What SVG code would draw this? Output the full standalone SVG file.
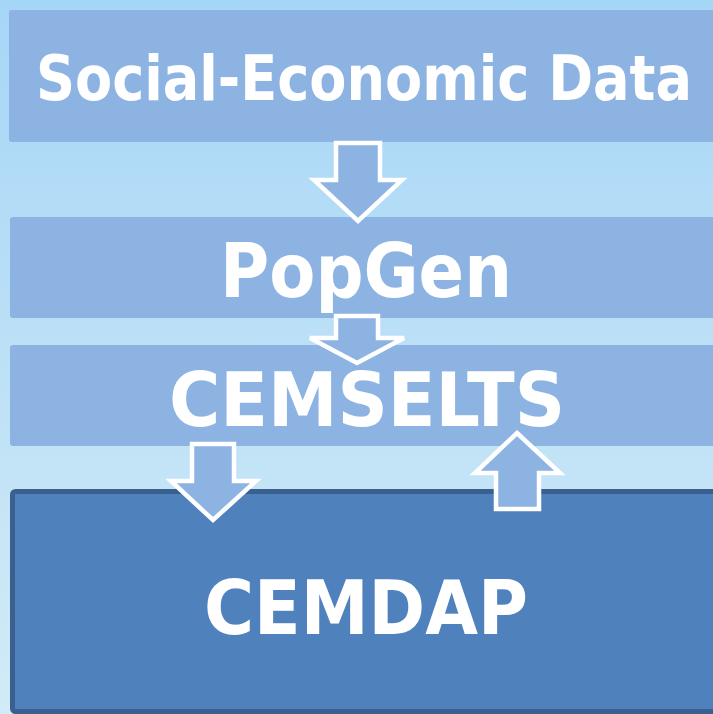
<svg xmlns="http://www.w3.org/2000/svg" width="713" height="714" viewBox="0 0 713 714">
<defs>
<linearGradient id="bg" x1="0" y1="0" x2="0" y2="1">
<stop offset="0" stop-color="#a6d6f7"/>
<stop offset="1" stop-color="#d2ebf6"/>
</linearGradient>
</defs>
<style>
.box{fill:#8db3e2;}
.main{fill:#4f81bd;stroke:#3a6090;stroke-width:5;}
.arrow{fill:#8db3e2;stroke:#ffffff;stroke-width:4.5;stroke-linejoin:miter;}
.t{fill:#ffffff;font-family:"DejaVu Sans Condensed","DejaVu Sans",sans-serif;font-weight:bold;text-anchor:middle;}
</style>
<rect x="0" y="0" width="713" height="714" fill="url(#bg)"/>
<g id="node-social">
<rect class="box" x="9" y="10" width="708" height="132" rx="3"/>
<text class="t" x="364" y="100" font-size="62" textLength="656" lengthAdjust="spacingAndGlyphs">Social-Economic Data</text>
</g>
<g id="node-popgen">
<rect class="box" x="10" y="217" width="707" height="101" rx="3"/>
<text class="t" x="366" y="297" font-size="74" textLength="292" lengthAdjust="spacingAndGlyphs">PopGen</text>
</g>
<g id="node-cemselts">
<rect class="box" x="10" y="345" width="707" height="101" rx="3"/>
<text class="t" x="367" y="426" font-size="75" textLength="396" lengthAdjust="spacingAndGlyphs">CEMSELTS</text>
</g>
<g id="node-cemdap">
<rect class="main" x="12.5" y="491.5" width="710" height="220" rx="3"/>
<text class="t" x="366" y="634" font-size="75" textLength="324" lengthAdjust="spacingAndGlyphs">CEMDAP</text>
</g>
<g id="connectors">
<polygon class="arrow" points="336,143 380,143 380,180 402,180 358,221 314,180 336,180"/>
<polygon class="arrow" points="336,316 378,316 378,338 404,338 357,363 310,338 336,338"/>
<polygon class="arrow" points="192,444 234,444 234,481 256,481 213,520 171,481 192,481"/>
<polygon class="arrow" points="517,433 560,473 539,473 539,509 496,509 496,473 475,473"/>
</g>
</svg>
